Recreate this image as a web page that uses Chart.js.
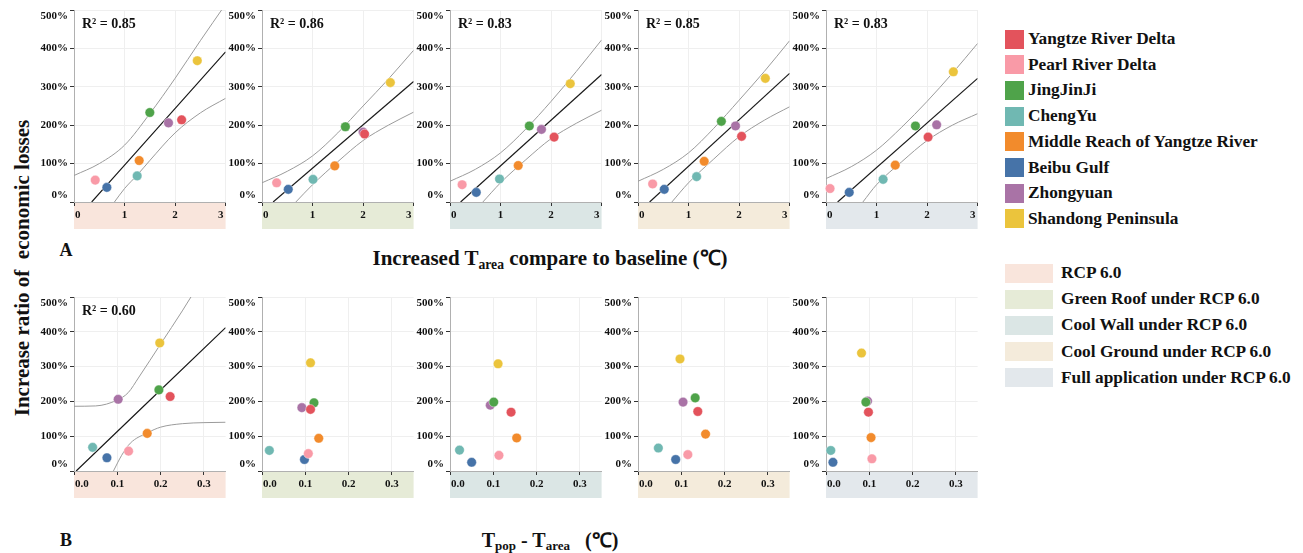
<!DOCTYPE html>
<html>
<head>
<meta charset="utf-8">
<script src="https://cdn.jsdelivr.net/npm/chart.js@4.4.1/dist/chart.umd.min.js"></script>
<style>
body { margin: 0; background: #fff; }
#page { position: relative; width: 1303px; height: 553px; overflow: hidden; font-family: "Liberation Serif", "Times New Roman", serif; font-weight: bold; color: #111; }
.panel { position: absolute; }
.lbl { position: absolute; white-space: pre; transform: translate(0, -50%); }
.mid { transform: translate(-50%, -50%); }
.box { position: absolute; }
sub { font-size: 65%; vertical-align: -0.25em; }
</style>
</head>
<body>
<div id="page"></div>
<script>
const regions = ['Yangtze River Delta', 'Pearl River Delta', 'JingJinJi', 'ChengYu', 'Middle Reach of Yangtze River', 'Beibu Gulf', 'Zhongyuan', 'Shandong Peninsula'];
const regionColors = ['#e3535c', '#f99aa7', '#4fa34a', '#70b8b2', '#f28b2c', '#4673a8', '#a973a6', '#ebc43c'];
const scenarios = ['RCP 6.0', 'Green Roof under RCP 6.0', 'Cool Wall under RCP 6.0', 'Cool Ground under RCP 6.0', 'Full application under RCP 6.0'];
const scenarioColors = ['#f9e5dc', '#e6ebd7', '#dbe6e5', '#f4ebdb', '#e3e8ec'];

// increase ratio of economic losses (%), one row per scenario, regions in the order above
const losses = [
  [214, 57, 233, 68, 108, 38, 206, 368],
  [177, 50, 196, 59, 94, 33, 182, 311],
  [169, 45, 198, 60, 95, 25, 189, 308],
  [171, 47, 210, 66, 106, 33, 198, 322],
  [169, 35, 198, 59, 96, 25, 201, 339]
];
// increased T_area compared to baseline (°C)
const tAreaRise = [
  [2.13, 0.42, 1.50, 1.25, 1.29, 0.65, 1.87, 2.44],
  [2.03, 0.29, 1.65, 1.01, 1.44, 0.52, 2.00, 2.54],
  [2.06, 0.24, 1.57, 0.98, 1.35, 0.52, 1.81, 2.38],
  [2.05, 0.29, 1.65, 1.16, 1.31, 0.52, 1.93, 2.52],
  [2.02, 0.08, 1.77, 1.13, 1.37, 0.46, 2.19, 2.52]
];
// T_pop - T_area (°C)
const tPopMinusArea = [
  [0.222, 0.126, 0.196, 0.043, 0.169, 0.076, 0.102, 0.198],
  [0.112, 0.107, 0.120, 0.017, 0.131, 0.098, 0.092, 0.112],
  [0.141, 0.113, 0.101, 0.022, 0.154, 0.050, 0.093, 0.111],
  [0.138, 0.115, 0.132, 0.047, 0.156, 0.087, 0.104, 0.097],
  [0.098, 0.106, 0.092, 0.011, 0.104, 0.016, 0.096, 0.082]
];

const r2A = ['0.85', '0.86', '0.83', '0.85', '0.83'];
const r2B = ['0.60', null, null, null, null];

const xTicksA = [0, 1, 2, 3];
const xTicksB = [0, 0.1, 0.2, 0.3];
const yTicks = [0, 100, 200, 300, 400, 500];

// fitted lines and confidence bands
const fitA = [
  [[0.35, 0], [3, 391]],
  [[0.22, 0], [3, 314]],
  [[0.21, 0], [3, 332]],
  [[0.23, 0], [3, 335]],
  [[0.23, 0], [3, 322]]
];
const upperA = [
  [[0, 69], [0.5, 100], [1, 148], [1.5, 230], [2, 322], [2.5, 420], [3, 515]],
  [[0, 50], [0.5, 80], [1, 120], [1.5, 180], [2, 250], [2.5, 320], [3, 395]],
  [[0, 54], [0.5, 85], [1, 128], [1.5, 190], [2, 262], [2.5, 340], [3, 422]],
  [[0, 54], [0.5, 85], [1, 128], [1.5, 192], [2, 265], [2.5, 340], [3, 420]],
  [[0, 61], [0.5, 92], [1, 135], [1.5, 195], [2, 262], [2.5, 335], [3, 413]]
];
const lowerA = [
  [[0.8, 0], [1, 35], [1.25, 70], [1.5, 108], [2, 180], [2.5, 232], [3, 270]],
  [[0.67, 0], [1, 45], [1.5, 105], [2, 160], [2.5, 200], [3, 234]],
  [[0.65, 0], [1, 50], [1.5, 110], [2, 165], [2.5, 205], [3, 239]],
  [[0.67, 0], [1, 50], [1.5, 112], [2, 170], [2.5, 213], [3, 248]],
  [[0.73, 0], [1, 45], [1.5, 105], [2, 160], [2.5, 200], [3, 230]]
];
const fitB = [[[0.005, 0], [0.35, 412]], null, null, null, null];
const upperB = [[[0, 186], [0.05, 187], [0.1, 204], [0.125, 225], [0.15, 270], [0.2, 365], [0.25, 460], [0.27, 500], [0.3, 555]], null, null, null, null];
const lowerB = [[[0.091, 0], [0.11, 45], [0.13, 80], [0.17, 110], [0.2, 126], [0.25, 136], [0.3, 139], [0.35, 140]], null, null, null, null];

const page = document.getElementById('page');

function addText(html, x, y, size, cls) {
  const d = document.createElement('div');
  d.className = 'lbl' + (cls ? ' ' + cls : '');
  d.innerHTML = html;
  d.style.left = x + 'px';
  d.style.top = y + 'px';
  d.style.fontSize = size + 'px';
  page.appendChild(d);
  return d;
}

function addBox(x, y, w, h, color) {
  const b = document.createElement('div');
  b.className = 'box';
  b.style.cssText += `left:${x}px;top:${y}px;width:${w}px;height:${h}px;background:${color}`;
  page.appendChild(b);
}

const panelText = {
  id: 'panelText',
  afterDraw(chart, args, opts) {
    const { ctx, chartArea: a, scales: { x, y } } = chart;
    ctx.save();
    ctx.fillStyle = '#111';
    ctx.font = 'bold 11px "Liberation Serif"';
    ctx.textAlign = 'right';
    ctx.textBaseline = 'middle';
    yTicks.forEach(v => {
      let py = y.getPixelForValue(v);
      py = Math.min(Math.max(py, a.top + 6), a.bottom - 7);
      ctx.fillText(v + '%', a.left - 6, py);
    });
    opts.xTicks.forEach(v => {
      let px = x.getPixelForValue(v);
      if (v === x.min) { ctx.textAlign = 'left'; px += 1; }
      else if (v === x.max) { ctx.textAlign = 'right'; px -= 2; }
      else ctx.textAlign = 'center';
      ctx.fillText(opts.decimals ? v.toFixed(1) : String(v), px, a.bottom + 13);
    });
    if (opts.r2) {
      ctx.font = 'bold 14px "Liberation Serif"';
      ctx.textAlign = 'left';
      ctx.fillText('R² = ' + opts.r2, a.left + 8, a.top + 14);
    }
    ctx.restore();
  }
};

function lineSet(pts, color, width) {
  return {
    type: 'line',
    data: pts.map(p => ({ x: p[0], y: p[1] })),
    borderColor: color,
    borderWidth: width,
    pointRadius: 0,
    fill: false,
    cubicInterpolationMode: 'monotone',
    clip: 0,
    order: 1
  };
}

function makePanel(isA, i) {
  const plotH = isA ? 192 : 174;
  const div = document.createElement('div');
  div.className = 'panel';
  div.style.left = (74 + 188 * i - 38) + 'px';
  div.style.top = (isA ? 2 : 289) + 'px';
  div.style.width = '195px';
  div.style.height = (8 + plotH + 27) + 'px';
  const canvas = document.createElement('canvas');
  div.appendChild(canvas);
  page.appendChild(div);

  const xs = isA ? tAreaRise[i] : tPopMinusArea[i];
  const fit = isA ? fitA[i] : fitB[i];
  const datasets = [];
  regions.forEach((name, k) => {
    datasets.push({
      type: 'scatter',
      label: name,
      data: [{ x: xs[k], y: losses[i][k] }],
      backgroundColor: regionColors[k],
      borderColor: 'rgba(255,255,255,0.7)',
      borderWidth: 0.6,
      pointRadius: 4.8,
      clip: false,
      order: 0
    });
  });
  if (fit) {
    datasets.push(lineSet(isA ? upperA[i] : upperB[i], '#9b9b9b', 1));
    datasets.push(lineSet(isA ? lowerA[i] : lowerB[i], '#9b9b9b', 1));
    datasets.push(lineSet(fit, '#1a1a1a', 1.2));
  }
  const xTicks = isA ? xTicksA : xTicksB;

  new Chart(canvas, {
    data: { datasets: datasets },
    options: {
      responsive: true,
      maintainAspectRatio: false,
      animation: false,
      layout: { padding: { top: 8, right: 4, left: 0, bottom: 0 } },
      plugins: {
        legend: { display: false },
        tooltip: { enabled: false },
        panelText: { xTicks: xTicks, decimals: !isA, r2: isA ? r2A[i] : r2B[i] }
      },
      scales: {
        x: {
          type: 'linear',
          min: 0,
          max: isA ? 3 : 0.35,
          backgroundColor: scenarioColors[i],
          afterBuildTicks: s => { s.ticks = xTicks.map(v => ({ value: v })); },
          afterFit: s => { s.height = 27; },
          grid: { color: '#efefef', tickColor: '#333', tickLength: 4 },
          border: { color: '#b0b0b0' },
          ticks: { display: false }
        },
        y: {
          min: 0,
          max: 500,
          afterBuildTicks: s => { s.ticks = yTicks.map(v => ({ value: v })); },
          afterFit: s => { s.width = 38; },
          grid: { color: '#efefef', tickColor: '#333', tickLength: 4 },
          border: { color: '#b0b0b0' },
          ticks: { display: false }
        }
      }
    },
    plugins: [panelText]
  });
}

for (let i = 0; i < 5; i++) {
  makePanel(true, i);
  makePanel(false, i);
}

// titles
addText('Increase ratio of  economic losses', 22, 268, 21, 'mid').style.transform = 'translate(-50%, -50%) rotate(-90deg)';
addText('Increased T<sub>area</sub> compare to baseline (℃)', 550, 258, 21, 'mid');
addText('T<sub>pop</sub> - T<sub>area</sub>   (℃)', 550, 540, 20, 'mid');
addText('A', 66, 250, 18, 'mid');
addText('B', 66, 540, 18, 'mid');

// legends
regions.forEach((name, k) => {
  const cy = 39 + k * 25.7;
  addBox(1005, cy - 9.5, 19, 19, regionColors[k]);
  addText(name, 1028, cy, 17.3);
});
scenarios.forEach((name, k) => {
  const cy = 273 + k * 26.2;
  addBox(1005, cy - 9.5, 48, 19, scenarioColors[k]);
  addText(name, 1061, cy, 17.3);
});
</script>
</body>
</html>
